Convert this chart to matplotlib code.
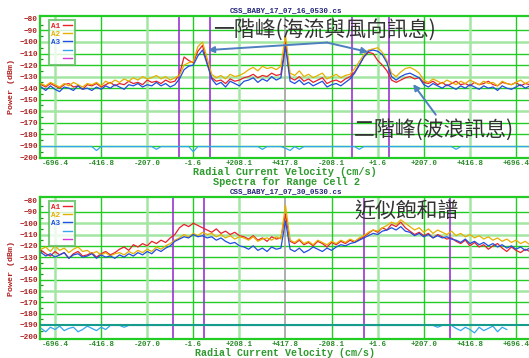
import numpy as np
import matplotlib
matplotlib.use('Agg')
import matplotlib.pyplot as plt
from matplotlib.lines import Line2D

# x axis: one unit per labelled tick, spectrum bins every 0.1 unit starting at -0.3
tick_labels = ['-696.4', '-416.8', '-207.0', '-1.6', '+208.1', '+417.8',
               '-208.1', '+1.6', '+207.0', '+416.8', '+696.4']
y_ticks = list(range(-80, -201, -10))
x0, dx = -0.3, 0.1

# ---- 17_07_16 (top) ----
top_a1 = [-137, -139, -136, -138, -140, -137, -136, -139, -138, -141,
          -137, -138, -136, -139, -137, -135, -138, -136, -137, -134,
          -136, -135, -137, -133, -135, -134, -136, -133, -135, -134,
          -128, -113, -116, -118, -108, -103, -118, -131,
          -134, -133, -136, -132, -134, -133, -131,
          -130, -128, -131, -129, -130, -127, -129, -128,
          -100,
          -131, -133, -130, -134, -132, -135, -133, -131, -136, -134, -133, -135, -132,
          -130, -126, -120, -113, -109, -110, -116, -120, -125, -133,
          -135, -133, -131, -130, -132, -131,
          -135, -136, -134, -137, -135, -138, -136, -134, -137, -136,
          -138, -135, -137, -136, -134, -137, -138, -135, -136, -137,
          -135, -138, -136, -137]
top_a2 = [-136, -138, -135, -137, -139, -136, -138, -135, -137, -139,
          -136, -137, -135, -138, -134, -136, -133, -135, -132, -134,
          -131, -133, -130, -132, -131, -129, -132, -130, -133, -131,
          -129, -120, -118, -117, -104, -100, -114, -128,
          -131, -129, -132, -128, -130, -129, -127,
          -124, -122, -125, -121, -123, -122, -124, -121,
          -94,
          -127, -129, -125, -130, -128, -131, -129, -127, -132, -130, -128, -131, -129,
          -128, -123, -117, -111, -107, -106, -105, -109, -116, -127,
          -130, -126, -123, -122, -124, -127,
          -133, -135, -132, -134, -136, -133, -135, -137, -134, -136,
          -133, -135, -137, -134, -136, -135, -138, -134, -136, -137,
          -135, -133, -136, -134]
top_a3 = [-139, -142, -138, -141, -143, -139, -140, -142, -138, -141,
          -140, -142, -139, -141, -138, -140, -137, -139, -141, -137,
          -138, -136, -139, -137, -138, -135, -138, -136, -139, -137,
          -132, -124, -121, -120, -112, -107, -119, -132,
          -137, -135, -139, -134, -136, -138, -134,
          -133, -131, -135, -132, -134, -130, -133, -131,
          -104,
          -134, -136, -133, -137, -135, -138, -136, -134, -139, -137, -136, -138, -135,
          -132, -127, -120, -113, -108, -107, -108, -111, -118, -130,
          -133, -130, -128, -127, -129, -131,
          -137, -139, -136, -138, -140, -137, -139, -141, -138, -140,
          -137, -139, -141, -138, -140, -139, -142, -138, -140, -141,
          -139, -137, -140, -138]
top_a4 = [-190.6, -190.6, -190.6, -190.6, -190.6, -190.6, -190.6, -190.6, -190.6, -190.6,
          -190.6, -190.6, -194, -190.6, -190.6, -190.6, -190.6, -190.6, -190.6, -190.6,
          -190.6, -190.6, -190.6, -190.6, -190.6, -193, -190.6, -190.6, -190.6, -190.6,
          -190.6, -190.6, -190.6, -195, -190.6, -190.6, -190.6, -190.6, -190.6, -190.6,
          -190.6, -190.6, -190.6, -190.6, -190.6, -190.6, -190.6, -190.6, -193, -190.6,
          -190.6, -190.6, -190.6, -192, -194, -190.6, -193, -190.6, -190.6, -190.6,
          -190.6, -190.6, -190.6, -190.6, -190.6, -190.6, -190.6, -190.6, -190.6, -193,
          -190.6, -190.6, -190.6, -190.6, -190.6, -190.6, -190.6, -190.6, -190.6, -190.6,
          -190.6, -190.6, -190.6, -190.6, -190.6, -190.6, -190.6, -190.6, -190.6, -190.6,
          -193, -190.6, -190.6, -190.6, -190.6, -190.6, -190.6, -190.6, -190.6, -190.6,
          -190.6, -190.6, -190.6, -190.6, -190.6, -190.6, -190.6]
top_marks = [2.69, 3.36, 6.44, 7.25]

# ---- 17_07_30 (bottom) ----
bot_a1 = [-124, -127, -129, -125, -128, -126, -131, -127, -125, -129,
          -128, -126, -130, -127, -125, -128, -126,
          -123, -121, -124, -119, -121, -118, -120, -116, -118, -115, -117, -113,
          -110, -104, -101, -103, -100, -102, -104, -106,
          -108, -105, -109, -107, -110, -108, -111,
          -112, -114, -111, -115, -113, -116, -112, -114, -113,
          -92,
          -116, -118, -115, -119, -117, -120, -116, -118, -121, -117, -119, -116, -118, -115, -117,
          -114, -112, -109, -106, -108, -104, -106,
          -101, -103, -99, -104,
          -107, -110, -108, -111, -109, -113, -110, -112, -114, -113,
          -116, -118, -115, -120, -117, -121, -119, -123, -120, -118,
          -122, -125, -121, -124, -126, -123, -125]
bot_a2 = [-123, -121, -125, -120, -124, -122, -126, -123, -121, -125,
          -124, -127, -125, -128, -126, -129, -127,
          -126, -128, -125, -127, -124, -126, -123, -125, -121, -123, -120, -118,
          -115, -113, -110, -112, -109, -111, -108, -110,
          -109, -112, -110, -113, -111, -114, -112,
          -113, -115, -112, -116, -114, -113, -115, -112, -114,
          -84,
          -115, -117, -114, -118, -116, -119, -115, -117, -119, -116, -118, -115, -117, -114, -116,
          -113, -111, -108, -106, -107, -104, -102,
          -99, -101, -97, -100,
          -103, -106, -104, -108, -105, -109, -106, -108, -110, -107,
          -111, -109, -112, -110, -113, -111, -114, -112, -115, -113,
          -116, -114, -117, -115, -118, -116, -119]
bot_a3 = [-126, -129, -127, -130, -128, -126, -131, -128, -127, -130,
          -129, -127, -131, -128, -130, -129, -131,
          -128, -130, -127, -129, -126, -128, -125, -127, -123, -125, -122, -120,
          -116, -114, -112, -113, -110, -112, -111, -113,
          -112, -115, -113, -116, -118, -117, -120,
          -121, -123, -120, -124, -122, -125, -121, -123, -122,
          -98,
          -123, -125, -122, -126, -124, -121, -123, -125, -122, -124, -121, -119, -120, -118, -117,
          -115, -113, -111, -109, -110, -107, -106,
          -104, -106, -103, -107,
          -108, -111, -109, -112, -110, -113, -111, -113, -112, -114,
          -115, -117, -114, -118, -116, -119, -117, -120, -118, -121,
          -119, -122, -120, -123, -121, -124, -122]
bot_a4 = [-193, -196, -192, -194, -191, -195, -193, -192, -196, -194,
          -191, -193, -195, -192, -194,
          -190.4, -190.4, -190.4, -192, -190.4, -190.4, -190.4, -190.4, -190.4, -190.4,
          -190.4, -190.4, -190.4, -190.4, -190.4, -190.4, -190.4, -190.4, -190.4, -190.4,
          -190.4, -190.4, -190.4, -190.4, -190.4, -190.4, -190.4, -190.4, -190.4, -190.4,
          -190.4, -190.4, -190.4, -190.4, -190.4, -190.4, -190.4, -190.4, -190.4, -190.4,
          -190.4, -190.4, -190.4, -190.4, -190.4, -190.4, -190.4, -190.4, -190.4, -190.4,
          -190.4, -190.4, -190.4, -190.4, -190.4, -190.4, -190.4, -190.4, -190.4, -190.4,
          -190.4, -190.4, -190.4, -190.4, -190.4, -190.4, -190.4, -190.4, -190.4, -190.4,
          -190.4, -192, -190.4, -190.4, -190.4,
          -193, -195, -192, -194, -197, -192, -195, -193, -191, -196, -192, -194]
bot_marks = [2.56, 3.23, 6.70, 8.57]

C_A1, C_A2, C_A3, C_A4, C_A5 = '#e8222a', '#e6b000', '#1f4ee0', '#33a6ee', '#d63ad6'
GREEN, PALE = '#22cc22', '#a3e6a3'
MONO = 'Liberation Mono'

fig = plt.figure(figsize=(5.29, 3.58), dpi=100)
fig.patch.set_facecolor('white')


def panel(rect, a1, a2, a3, a4, marks, ylim, pale_rows, teal=False):
    ax = fig.add_axes(rect)
    ax.set_xlim(-0.325, 10.347)
    ax.set_ylim(*ylim)
    for y in y_ticks[1:-1]:
        if teal and y == -190:
            continue
        if y in pale_rows:
            ax.axhline(y, color=PALE, lw=1.8, zorder=1)
        else:
            ax.axhline(y, color=GREEN, lw=1.0, zorder=1)
    for k in range(11):
        if k == 5:
            ax.axvline(k, color='#a0a0a0', lw=1.2, zorder=1)
        elif k in (0, 2, 4, 7, 9):
            ax.axvline(k, color=PALE, lw=1.8, zorder=1)
        else:
            ax.axvline(k, color=GREEN, lw=1.0, zorder=1)
    for m in marks:
        ax.axvline(m, color='#9a35d0', lw=1.2, zorder=2)
    for s, c in [(a4, C_A4), (a1, C_A1), (a2, C_A2), (a3, C_A3)]:
        xs = x0 + dx * np.arange(len(s))
        ax.plot(xs, s, color=c, lw=0.9, zorder=3)
    if teal:
        ax.axhline(-190, color='#169c8c', lw=1.5, zorder=3.5)
    ax.set_xticks(range(11))
    ax.set_xticklabels(tick_labels)
    ax.set_yticks(y_ticks)
    ax.set_yticklabels([str(v).replace('-', '\u2212') for v in y_ticks])
    ax.set_yticks(list(range(-85, -200, -10)), minor=True)
    ax.tick_params(axis='x', length=0, pad=1.5, labelsize=5.4, labelcolor='#2a8a2a')
    ax.tick_params(axis='y', which='major', length=0, pad=1.5, labelsize=5.6, labelcolor='#b02020')
    ax.tick_params(axis='y', which='minor', direction='in', length=2.5, width=0.9, color='#2a8a2a')
    for lab in ax.get_xticklabels() + ax.get_yticklabels():
        lab.set_fontfamily(MONO)
        lab.set_fontweight('bold')
    for sp in ax.spines.values():
        sp.set_color(GREEN)
        sp.set_linewidth(1.6)
    ax.set_ylabel('Power (dBm)', fontsize=6, color='#b02020', family=MONO,
                  fontweight='bold', labelpad=3)
    handles = [Line2D([], [], color=c, lw=1.0) for c in (C_A1, C_A2, C_A3, C_A4, C_A5)]
    leg = ax.legend(handles, ['A1', 'A2', 'A3', '', ''], loc='upper left',
                    bbox_to_anchor=(0.018, 0.972), borderaxespad=0, markerfirst=False,
                    handlelength=1.2, handletextpad=0.35, labelspacing=0.12,
                    borderpad=0.3, fancybox=False, edgecolor='#5cbf5c',
                    labelcolor='linecolor', prop={'family': MONO, 'size': 5.5, 'weight': 'bold'})
    leg.get_frame().set_linewidth(1.5)
    leg.set_zorder(5)
    return ax


W, H = 529.0, 358.0
ax1 = panel([40 / W, 1 - 158 / H, 492 / W, 142 / H], top_a1, top_a2, top_a3, top_a4,
            top_marks, (-200.5, -77.5), (-100, -130, -160))
ax2 = panel([40 / W, 1 - 339 / H, 492 / W, 142 / H], bot_a1, bot_a2, bot_a3, bot_a4,
            bot_marks, (-202.4, -76.8), (-100, -110, -160), teal=True)

# figure texts
def ftext(px, py, s, **kw):
    fig.text(px / W, 1 - py / H, s, ha='center', va='center', family=MONO, **kw)

ftext(286, 11, 'CSS_BABY_17_07_16_0530.cs', fontsize=5.4, color='#23237a', fontweight='bold')
ftext(285, 172, 'Radial Current Velocity (cm/s)', fontsize=7.4, color='#2f9a2f', fontweight='bold')
ftext(286, 182, 'Spectra for Range Cell 2', fontsize=7.4, color='#2f9a2f', fontweight='bold')
ftext(286, 192, 'CSS_BABY_17_07_30_0530.cs', fontsize=5.4, color='#23237a', fontweight='bold')
ftext(285, 353.5, 'Radial Current Velocity (cm/s)', fontsize=7.2, color='#2f9a2f', fontweight='bold')

# annotations
cjk = ['Noto Sans CJK TC', 'DejaVu Sans']
arrow = dict(arrowstyle='-|>', color='#4f7fbf', lw=1.4, mutation_scale=9, shrinkA=0, shrinkB=0)
ax1.text(3.43, -89.6, '一階峰(海流與風向訊息)', fontsize=15, color='#333333',
         family=cjk, va='center', ha='left', zorder=6)
ax1.annotate('', xy=(3.32, -107), xytext=(5.9, -100.5), arrowprops=arrow, zorder=6)
ax1.annotate('', xy=(6.79, -108.7), xytext=(5.9, -100.5), arrowprops=arrow, zorder=6)
ax1.text(6.49, -176.3, '二階峰(波浪訊息)', fontsize=15, color='#333333',
         family=cjk, va='center', ha='left', zorder=6)
ax1.annotate('', xy=(7.77, -136.5), xytext=(8.26, -163), arrowprops=arrow, zorder=6)
ax2.text(6.49, -89, '近似飽和譜', fontsize=15, color='#333333',
         family=cjk, va='center', ha='left', zorder=6)

fig.savefig('out.png', dpi=100)
